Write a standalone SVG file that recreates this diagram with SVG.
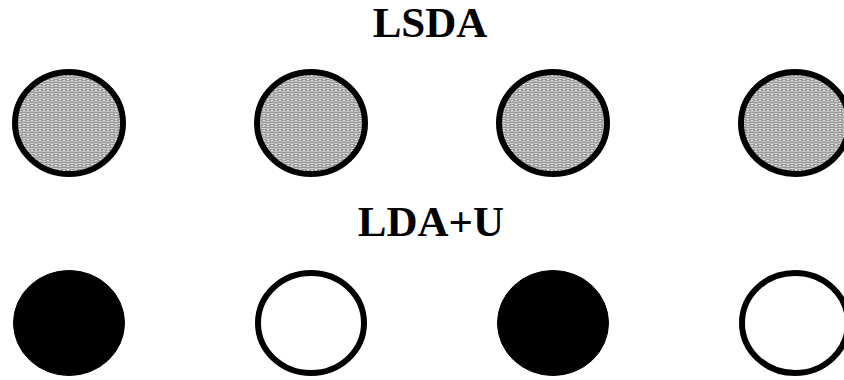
<svg xmlns="http://www.w3.org/2000/svg" width="844" height="380" viewBox="0 0 844 380">
<style>
.t{font-family:"Liberation Serif","Times New Roman",serif;font-weight:bold;font-size:43px;fill:#000;text-anchor:middle}
.s{stroke:#000;stroke-width:6}
.g{fill:url(#mesh)}
.b{fill:#000;stroke:#000;stroke-width:1}
.w{fill:#fff}
</style>
<defs>
<pattern id="mesh" width="8" height="5" patternUnits="userSpaceOnUse">
<rect width="8" height="5" fill="#e6e6e6"/>
<ellipse cx="4" cy="1.2" rx="3.2" ry="1.1" fill="none" stroke="#7a7a7a" stroke-width="0.9"/>
<ellipse cx="0" cy="3.7" rx="3.2" ry="1.1" fill="none" stroke="#7a7a7a" stroke-width="0.9"/>
<ellipse cx="8" cy="3.7" rx="3.2" ry="1.1" fill="none" stroke="#7a7a7a" stroke-width="0.9"/>
</pattern>
</defs>
<text class="t" x="430" y="37">LSDA</text>
<text class="t" x="431" y="236">LDA+U</text>
<g id="lsda1"><ellipse class="g s" cx="69" cy="123" rx="54" ry="51"/></g>
<g id="lsda2"><ellipse class="g s" cx="311" cy="123" rx="54" ry="51"/></g>
<g id="lsda3"><ellipse class="g s" cx="553" cy="123" rx="54" ry="51"/></g>
<g id="lsda4"><ellipse class="g s" cx="795" cy="123" rx="54" ry="51"/></g>
<g id="ldau1"><ellipse class="b" cx="69" cy="323" rx="55.5" ry="52.5"/></g>
<g id="ldau2"><ellipse class="w s" cx="311" cy="323" rx="53" ry="50"/></g>
<g id="ldau3"><ellipse class="b" cx="553" cy="323" rx="55.5" ry="52.5"/></g>
<g id="ldau4"><ellipse class="w s" cx="795" cy="323" rx="53" ry="50"/></g>
<g id="connectors"></g>
</svg>
